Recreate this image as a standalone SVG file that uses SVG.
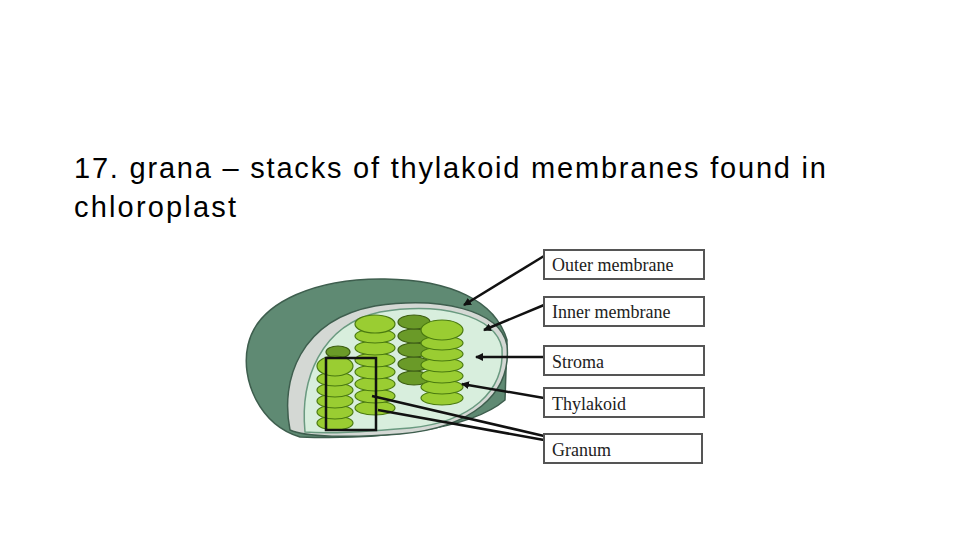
<svg xmlns="http://www.w3.org/2000/svg" width="960" height="540" viewBox="0 0 960 540">
<style>
.t{font-family:"Liberation Sans",Arial,sans-serif;font-size:29px;fill:#000}
.lb{font-family:"Liberation Serif",serif;font-size:18px;fill:#222}
.box{fill:#fff;stroke:#555;stroke-width:2}
.disc{fill:#9acd32;stroke:#4a7a10;stroke-width:1.2}
.dd{fill:#6a9a28;stroke:#3d5e12;stroke-width:1.2}
.ln{stroke:#111;stroke-width:2.5;fill:none}
</style>
<defs>
<marker id="ah" markerWidth="8" markerHeight="8" refX="7" refY="4" orient="auto" markerUnits="userSpaceOnUse"><path d="M0,0 L8,4 L0,8 z" fill="#111"/></marker>
</defs>
<rect width="960" height="540" fill="#fff"/>
<text class="t" x="74" y="178" textLength="752">17. grana – stacks of thylakoid membranes found in</text>
<text class="t" x="74" y="217" textLength="162">chloroplast</text>
<g id="chloroplast">
<path d="M300,437 C260,425 240,380 248,345 C258,300 320,278 385,279 C450,280 495,300 507,340 L505,400 C470,430 380,440 300,437 Z" fill="#5f8a73" stroke="#3e5e4e" stroke-width="1.5"/>
<path d="M290,430 C280,380 300,320 375,306 C440,296 500,310 507,345 C512,395 470,428 400,434 C350,438 305,437 290,430 Z" fill="#d4d8d4" stroke="#3e5e4e" stroke-width="1.5"/>
<path d="M305,432 C300,380 320,325 380,312 C440,302 495,315 502,348 C505,392 470,422 410,428 C360,432 330,434 305,432 Z" fill="#d8eedd" stroke="#6a9a80" stroke-width="1.5"/>
<g id="backstack">
<ellipse class="dd" cx="414" cy="378" rx="16" ry="7"/><ellipse class="dd" cx="414" cy="364" rx="16" ry="7"/><ellipse class="dd" cx="414" cy="350" rx="16" ry="7"/><ellipse class="dd" cx="414" cy="336" rx="16" ry="7"/><ellipse class="dd" cx="414" cy="322" rx="16" ry="7"/>
<ellipse class="dd" cx="338" cy="352" rx="12" ry="6"/>
</g>
<g id="stackB">
<ellipse class="disc" cx="375" cy="408" rx="20" ry="7"/><ellipse class="disc" cx="375" cy="396" rx="20" ry="7"/><ellipse class="disc" cx="375" cy="384" rx="20" ry="7"/><ellipse class="disc" cx="375" cy="372" rx="20" ry="7"/><ellipse class="disc" cx="375" cy="360" rx="20" ry="7"/><ellipse class="disc" cx="375" cy="348" rx="20" ry="7"/><ellipse class="disc" cx="375" cy="336" rx="20" ry="7"/><ellipse class="disc" cx="375" cy="324" rx="20" ry="9"/>
</g>
<g id="stackC">
<ellipse class="disc" cx="442" cy="398" rx="21" ry="7"/><ellipse class="disc" cx="442" cy="387" rx="21" ry="7"/><ellipse class="disc" cx="442" cy="376" rx="21" ry="7"/><ellipse class="disc" cx="442" cy="365" rx="21" ry="7"/><ellipse class="disc" cx="442" cy="354" rx="21" ry="7"/><ellipse class="disc" cx="442" cy="343" rx="21" ry="7"/><ellipse class="disc" cx="442" cy="330" rx="21" ry="10"/>
</g>
<g id="stackA">
<ellipse class="disc" cx="335" cy="423" rx="18" ry="7"/><ellipse class="disc" cx="335" cy="412" rx="18" ry="7"/><ellipse class="disc" cx="335" cy="401" rx="18" ry="7"/><ellipse class="disc" cx="335" cy="390" rx="18" ry="7"/><ellipse class="disc" cx="335" cy="379" rx="18" ry="7"/><ellipse class="disc" cx="335" cy="366" rx="18" ry="10"/>
</g>
<rect x="326" y="358" width="50" height="72" fill="none" stroke="#111" stroke-width="2.5"/>
</g>
<g id="connectors">
<line class="ln" x1="544" y1="256" x2="464" y2="305" marker-end="url(#ah)"/>
<line class="ln" x1="544" y1="305" x2="484" y2="330" marker-end="url(#ah)"/>
<line class="ln" x1="544" y1="357" x2="476" y2="357" marker-end="url(#ah)"/>
<line class="ln" x1="544" y1="398" x2="462" y2="384" marker-end="url(#ah)"/>
<line class="ln" x1="544" y1="436" x2="372" y2="396"/>
<line class="ln" x1="544" y1="440" x2="378" y2="410"/>
</g>
<g id="label-outer"><rect class="box" x="544" y="250" width="160" height="29"/><text class="lb" x="552" y="271">Outer membrane</text></g>
<g id="label-inner"><rect class="box" x="544" y="297" width="160" height="29"/><text class="lb" x="552" y="318">Inner membrane</text></g>
<g id="label-stroma"><rect class="box" x="544" y="346" width="160" height="29"/><text class="lb" x="552" y="368">Stroma</text></g>
<g id="label-thylakoid"><rect class="box" x="544" y="388" width="160" height="29"/><text class="lb" x="552" y="410">Thylakoid</text></g>
<g id="label-granum"><rect class="box" x="544" y="434" width="158" height="29"/><text class="lb" x="552" y="456">Granum</text></g>
</svg>
